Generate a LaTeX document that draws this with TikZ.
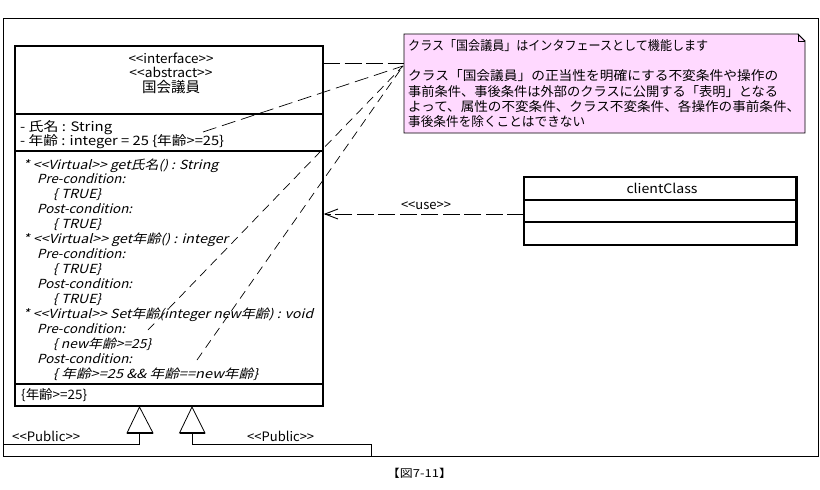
\documentclass[tikz,border=0pt]{standalone}
\usepackage{graphicx}
\usepackage{fontspec}
\newfontfamily\uifont{Noto Sans CJK JP}
\newcommand\fitw[2]{\resizebox{#1pt}{\height}{#2}}
\usetikzlibrary{arrows.meta}
\definecolor{notepink}{HTML}{FFD9FF}
\tikzset{
  x=1pt,y=-1pt,
  umlbox/.style={draw=black,line width=2.2pt,fill=white,inner sep=0pt,outer sep=0pt,anchor=north west},
  divider/.style={draw=black,line width=2pt},
  thin line/.style={draw=black,line width=0.9pt},
  dep/.style={draw=black,line width=0.8pt,dash pattern=on 17pt off 4.5pt},
  depb/.style={draw=black,line width=0.7pt,dash pattern=on 9pt off 6pt},
  txt/.style={inner sep=0pt,anchor=base west,font=\uifont\fontsize{13}{14}\selectfont},
  ital/.style={inner sep=0pt,anchor=base west,font=\uifont\fontsize{12.5}{14}\selectfont,xslant=0.25},
  ctr/.style={inner sep=0pt,anchor=base,font=\uifont\fontsize{13}{14}\selectfont},
  notetxt/.style={inner sep=0pt,anchor=base west,font=\uifont\fontsize{13}{14}\selectfont},
  gen/.style={draw=black,line width=0.8pt,fill=white}
}
\begin{document}
\begin{tikzpicture}
\useasboundingbox (0,0) rectangle (820,490);
\fill[white] (0,0) rectangle (820,490);
% outer frame
\draw[thin line] (3.5,456) -- (3.5,18.5) -- (818.5,18.5) -- (818.5,456) -- cycle;
% main class
\node[umlbox,minimum width=308pt,minimum height=360pt] (iface) at (15,46) {};
\draw[divider] (15,114) -- (323,114);
\draw[divider] (15,151) -- (323,151);
\draw[divider] (15,384) -- (323,384);
\node[ctr] (s1) at (171,63) {\fitw{85}{<<interface>>}};
\node[ctr] (s2) at (171,77.5) {\fitw{83}{<<abstract>>}};
\node[ctr,font=\uifont\fontsize{14.5}{15}\selectfont] (s3) at (171,92.5) {\fitw{58}{国会議員}};
\node[txt] (a1) at (20,131.5) {\fitw{92}{- 氏名 : String}};
\node[txt] (a2) at (20,145) {\fitw{204}{- 年齢 : integer = 25 \{年齢>=25\}}};
\node[ital] (m1) at (23,169) {\fitw{195}{* <<Virtual>> get氏名() : String}};
\node[ital] (m2) at (37,183) {\fitw{88}{Pre-condition:}};
\node[ital] (m3) at (53,198) {\fitw{48}{\{ TRUE\}}};
\node[ital] (m4) at (37,213) {\fitw{95}{Post-condition:}};
\node[ital] (m5) at (53,228) {\fitw{48}{\{ TRUE\}}};
\node[ital] (m6) at (23,243) {\fitw{205}{* <<Virtual>> get年齢() : integer}};
\node[ital] (m7) at (37,258) {\fitw{88}{Pre-condition:}};
\node[ital] (m8) at (53,273) {\fitw{48}{\{ TRUE\}}};
\node[ital] (m9) at (37,288) {\fitw{95}{Post-condition:}};
\node[ital] (m10) at (53,303) {\fitw{48}{\{ TRUE\}}};
\node[ital] (m11) at (23,318) {\fitw{290}{* <<Virtual>> Set年齢(integer new年齢) : void}};
\node[ital] (m12) at (37,333) {\fitw{88}{Pre-condition:}};
\node[ital] (m13) at (53,348) {\fitw{98}{\{ new年齢>=25\}}};
\node[ital] (m14) at (37,363) {\fitw{95}{Post-condition:}};
\node[ital] (m15) at (53,378) {\fitw{205}{\{ 年齢>=25 \&\&  年齢==new年齢\}}};
\node[txt] (inv) at (21,399.5) {\fitw{66}{\{年齢>=25\}}};
% generalisation
\coordinate (t1) at (139.5,407);
\coordinate (t2) at (192,407);
\coordinate (b1) at (139.5,433);
\coordinate (b2) at (192,433);
\coordinate (frameL) at (3.5,444);
\coordinate (frameB) at (371,456);
\draw[gen] (t1) -- (127,433) -- (153,433) -- cycle;
\draw[gen] (t2) -- (179.5,433) -- (205,433) -- cycle;
\draw[black,line width=1.4pt] (127,433) -- (153,433) (179.5,433) -- (205,433);
\draw[thin line] (b1) -- (139.5,444) -- (frameL);
\draw[thin line] (b2) -- (192,444) -- (371,444) -- (frameB);
\node[txt] (p1) at (12,441) {\fitw{68}{<<Public>>}};
\node[txt] (p2) at (247,441) {\fitw{67}{<<Public>>}};
% note
\draw[draw=black,line width=0.9pt,fill=notepink] (404,34) -- (798,34) -- (805,41) -- (805,133) -- (404,133) -- cycle;
\fill[white] (798,34) -- (805,34) -- (805,41) -- cycle;
\draw[black,line width=0.8pt] (798,34) -- (798,41) -- (805,41);
\draw[black,line width=0.8pt] (798,34) -- (805,41);
\node[notetxt] (n1) at (408,50.5) {\fitw{300}{クラス「国会議員」はインタフェースとして機能します}};
\node[notetxt] (n2) at (408,80.5) {\fitw{370}{クラス「国会議員」の正当性を明確にする不変条件や操作の}};
\node[notetxt] (n3) at (408,96.5) {\fitw{370}{事前条件、事後条件は外部のクラスに公開する「表明」となる}};
\node[notetxt] (n4) at (408,111.5) {\fitw{392}{よって、属性の不変条件、クラス不変条件、各操作の事前条件、}};
\node[notetxt] (n5) at (408,126.5) {\fitw{177}{事後条件を除くことはできない}};
% connectors to note
\coordinate (nt) at (404,63.5);
\coordinate (nb) at (403,66);
\coordinate (ifaceR) at (323,63.5);
\coordinate (attr) at (203,132);
\coordinate (pre) at (148,330);
\coordinate (post) at (197,360);
\draw[dep] (ifaceR) -- (nt);
\draw[depb,dash pattern=on 14pt off 6pt] (attr) -- (nb);
\draw[depb] (pre) -- (nb);
\draw[depb] (post) -- (nb);
% client class
\node[umlbox,minimum width=272.5pt,minimum height=68pt] (client) at (524,177) {};
\draw[divider] (524,200) -- (796.5,200);
\draw[divider] (524,222) -- (796.5,222);
\node[ctr] (c1) at (662,193) {\fitw{71}{clientClass}};
\coordinate (usetip) at (325,214);
\coordinate (useR) at (524,214);
\draw[dep] (useR) -- (usetip);
\draw[black,line width=0.9pt] (338,209) -- (usetip) -- (338,219);
\node[ctr] (u1) at (426,209.5) {\fitw{50}{<<use>>}};
% caption
\node[ctr,font=\uifont\fontsize{11}{12}\selectfont] (cap) at (419.5,477) {\fitw{65}{【図7-11】}};
\end{tikzpicture}
\end{document}
